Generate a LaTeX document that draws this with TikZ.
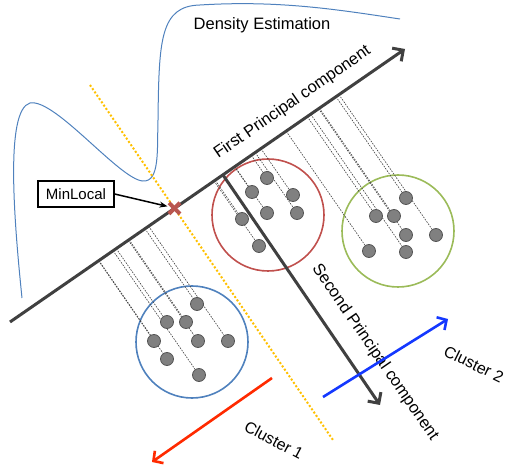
\documentclass[tikz,border=0pt]{standalone}
\usepackage{fontspec}
\setmainfont{Liberation Sans}
\usetikzlibrary{arrows.meta,calc}
\definecolor{axisgray}{HTML}{404040}
\definecolor{curveblue}{HTML}{4F81BD}
\definecolor{cred}{HTML}{C0504D}
\definecolor{cgreen}{HTML}{9BBB59}
\definecolor{cblue}{HTML}{4F81BD}
\definecolor{orangedot}{HTML}{FFC000}
\definecolor{crossred}{HTML}{B9564F}
\definecolor{arrred}{HTML}{FF2A00}
\definecolor{arrblue}{HTML}{1438FF}
\definecolor{dotgray}{HTML}{808080}
\definecolor{dotedge}{HTML}{555555}
\begin{document}
\begin{tikzpicture}[x=1pt,y=-1pt,
  lbl/.style={font=\fontsize{16.5}{19}\selectfont, inner sep=0pt},
  cllbl/.style={font=\fontsize{16}{19}\selectfont, inner sep=0pt},
  axisline/.style={draw=axisgray, line width=3pt, -{Straight Barb[length=8pt,width=16pt,line width=3pt]}},
  cluster/.style={circle, draw, line width=1.6pt, minimum size=112pt, inner sep=0pt},
  dot/.style={circle, fill=dotgray, draw=dotedge, line width=0.8pt, inner sep=0pt, minimum size=13pt},
  proj/.style={draw=black!75, line width=0.6pt, dash pattern=on 1.6pt off 1.2pt},
  clarrow/.style={line width=2.6pt, -{Straight Barb[length=7pt,width=15pt,line width=2.6pt]}}
]
\useasboundingbox (0,0) rectangle (507,468);

% density curve
\draw[curveblue, line width=1pt] (22,298) .. controls (14,220) and (5,110) .. (30,103)
  .. controls (55,98) and (120,180) .. (143,181)
  .. controls (160,182) and (157,150) .. (158,120)
  .. controls (159,40) and (160,6) .. (200,5)
  .. controls (280,0) and (340,10) .. (400,19);
\node[lbl] (title) at (262,25) {Density Estimation};

% axis end points
\coordinate (A) at (10,322);
\coordinate (B) at (405,49);
\coordinate (S1) at ($(A)!0.539!(B)$);
\coordinate (S2) at (380,405);

% orange dotted line
\coordinate (O1) at (90,85);
\coordinate (O2) at (333,440);
\draw[orangedot, line width=2pt, dotted] (O1) -- (O2);

% clusters
\node[cluster, draw=cblue] (cb) at (192,342) {};
\node[cluster, draw=cred] (cr) at (268,215) {};
\node[cluster, draw=cgreen] (cg) at (398,231) {};

% dots coordinates
\foreach \n/\x/\y in {b1/197/304, b2/167/322, b3/186/322, b4/154/341, b5/198/341, b6/228/341, b7/167/359, b8/199/375,
  r1/267/178, r2/252/192, r3/293/195, r4/242/219, r5/267/213, r6/297/213, r7/259/246,
  g1/406/198, g2/376/216, g3/394/216, g4/406/235, g5/436/235, g6/369/251, g7/406/252}
  {\coordinate (p\n) at (\x,\y);}

% projection lines
\foreach \n in {b1,b2,b3,b4,b5,b6,b7,b8,r1,r2,r3,r4,r5,r6,r7,g1,g2,g3,g4,g5,g6,g7}
  {\draw[proj] ($(A)!(p\n)!(B)$) -- (p\n);}

% dots
\foreach \n in {b1,b2,b3,b4,b5,b6,b7,b8,r1,r2,r3,r4,r5,r6,r7,g1,g2,g3,g4,g5,g6,g7}
  {\node[dot] (\n) at (p\n) {};}

% axes
\draw[axisline] (A) -- (B);
\draw[axisline] (S1) -- (S2);
\node[lbl, rotate=34.65] (firstlbl) at (292.5,102.5) {First Principal component};
\node[lbl, rotate=-55.35] (secondlbl) at (375,352.5) {Second Principal component};

% MinLocal cross
\coordinate (X) at (intersection of A--B and O1--O2);
\draw[crossred, line width=4pt] ($(X)+(-5.5,-5.5)$) -- ($(X)+(5.5,5.5)$);
\draw[crossred, line width=4pt] ($(X)+(-5.5,5.5)$) -- ($(X)+(5.5,-5.5)$);
\node[draw, line width=1.2pt, minimum width=76pt, minimum height=26pt, inner sep=0pt,
  font=\fontsize{15}{18}\selectfont] (minlocal) at (76,194) {MinLocal};
\draw[line width=1.5pt, -{Stealth[length=8pt,width=6pt]}] (minlocal.east) -- ($(X)+(-7,-2)$);

% cluster arrows
\coordinate (R1) at (272,378);
\coordinate (R2) at (152,462);
\draw[arrred, clarrow] (R1) -- (R2);
\coordinate (U1) at (323,397);
\coordinate (U2) at (448,319);
\draw[arrblue, clarrow] (U1) -- (U2);
\node[cllbl, rotate=-28] (c1) at (274,440) {Cluster 1};
\node[cllbl, rotate=-26] (c2) at (474,364) {Cluster 2};
\end{tikzpicture}
\end{document}
